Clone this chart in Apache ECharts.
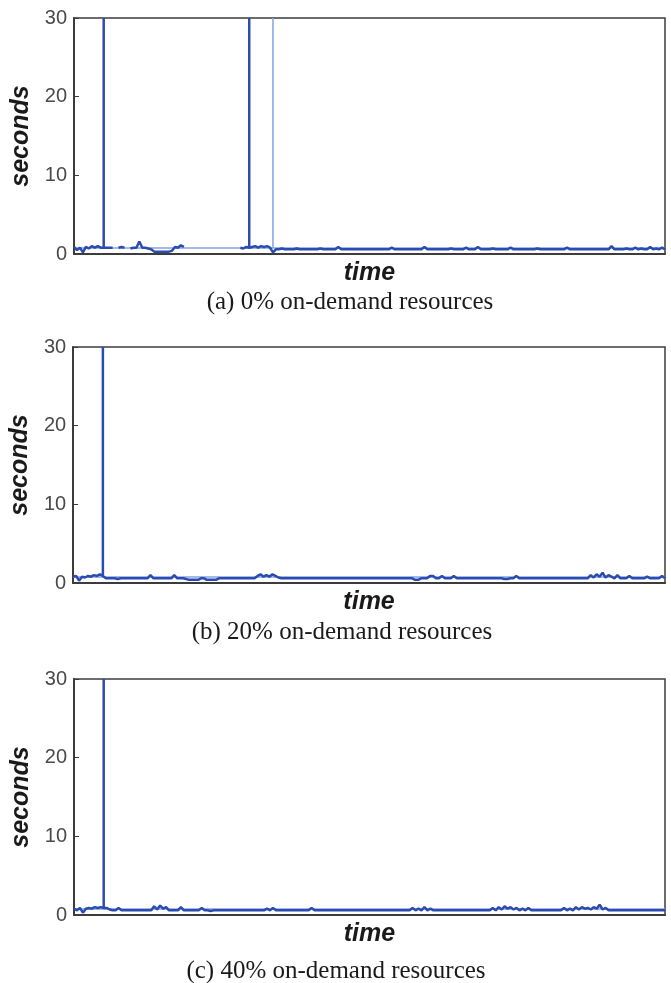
<!DOCTYPE html>
<html>
<head>
<meta charset="utf-8">
<script src="https://cdn.jsdelivr.net/npm/echarts@6/dist/echarts.min.js"></script>
<style>html,body{margin:0;padding:0;background:#fff}#c{width:671px;height:983px}</style>
</head>
<body>
<div id="c"></div>
<script>
// ---- data (index = time step, 200 samples per run) ----
const captions = ['(a) 0% on-demand resources', '(b) 20% on-demand resources', '(c) 40% on-demand resources'];
const yTicks = [0, 10, 20, 30];

const delayA = [
  0.9, 0.5, 0.8, 0.2, 0.9, 0.7, 1.0, 0.8, 1.0, 0.8,
  0.8,
  0.8, 0.8, 0.8, null, 0.8, 0.9, 0.8, null, 0.7, 0.8, 0.8, 1.6, 0.8, 0.8, 0.7, 0.6,
  0.3, 0.3, 0.3, 0.3, 0.3, 0.3, 0.4,
  0.9, 0.8, 1.1, 0.9,
  null, null, null, null, null, null, null, null, null, null, null, null, null, null, null, null,
  0.7, null, 0.8, 0.7, 0.9,
  0.8,
  0.9, 1.0, 0.8, 1.0, 0.9, 1.0, 0.8,
  0.2,
  0.6, 0.6, 0.7, 0.6, 0.6, 0.6, 0.6, 0.7, 0.6, 0.6, 0.6, 0.6,
  0.6, 0.6, 0.6, 0.7, 0.6, 0.6, 0.6, 0.6, 0.6, 0.9, 0.6, 0.6,
  0.6, 0.6, 0.6, 0.6, 0.6, 0.6, 0.6, 0.6, 0.6, 0.6, 0.6, 0.6,
  0.6, 0.6, 0.6, 0.8, 0.6, 0.6, 0.6, 0.6, 0.6, 0.6, 0.6, 0.6,
  0.6, 0.6, 0.9, 0.6, 0.6, 0.6, 0.6, 0.6, 0.6, 0.6, 0.6, 0.7,
  0.6, 0.6, 0.6, 0.6, 0.8, 0.6, 0.6, 0.6, 0.9, 0.6, 0.6, 0.6,
  0.6, 0.7, 0.6, 0.6, 0.6, 0.6, 0.6, 0.8, 0.6, 0.6, 0.6, 0.6,
  0.6, 0.6, 0.6, 0.6, 0.7, 0.6, 0.6, 0.6, 0.6, 0.6, 0.6, 0.6,
  0.6, 0.6, 0.8, 0.6, 0.6, 0.6, 0.6, 0.6, 0.6, 0.6, 0.6, 0.6,
  0.6, 0.6, 0.6, 0.6, 0.6, 1.0, 0.6, 0.6, 0.6, 0.6, 0.7, 0.6,
  0.6, 0.8, 0.6, 0.7, 0.6, 0.6, 0.9, 0.6, 0.7, 0.6, 0.8, 0.6
];
// timeouts: sample index where the delay jumps to the peak (then back)
const spikeIdxA = [10, 59];
const spikeValA = [30, 30];

const delayB = [
  0.8, 0.9, 0.3, 0.8, 0.7, 0.9, 0.8, 1.0, 0.9, 1.1,
  0.9,
  0.6, 0.6, 0.6, 0.6, 0.5, 0.6, 0.6, 0.6, 0.6, 0.6,
  0.6, 0.6, 0.6, 0.6, 0.6, 1.0, 0.6, 0.6, 0.6, 0.6,
  0.6, 0.6, 0.6, 1.0, 0.6, 0.6, 0.6, 0.5, 0.4, 0.4,
  0.4, 0.4, 0.6, 0.6, 0.4, 0.4, 0.4, 0.4, 0.6, 0.6,
  0.6, 0.6, 0.6, 0.6, 0.6, 0.6, 0.6, 0.6, 0.6, 0.6,
  0.6, 0.9, 1.1, 0.8, 1.0, 0.8, 1.1, 0.9, 0.7, 0.6,
  0.6, 0.6, 0.6, 0.6, 0.6, 0.6, 0.6, 0.6, 0.6, 0.6,
  0.6, 0.6, 0.6, 0.6, 0.6, 0.6, 0.6, 0.6, 0.6, 0.6,
  0.6, 0.6, 0.6, 0.6, 0.6, 0.6, 0.6, 0.6, 0.6, 0.6,
  0.6, 0.6, 0.6, 0.6, 0.6, 0.6, 0.6, 0.6, 0.6, 0.6,
  0.6, 0.6, 0.6, 0.6, 0.4, 0.4, 0.6, 0.6, 0.6, 0.9,
  0.9, 0.6, 0.6, 0.9, 0.6, 0.6, 0.6, 0.9, 0.6, 0.6,
  0.6, 0.6, 0.6, 0.6, 0.6, 0.6, 0.6, 0.6, 0.6, 0.6,
  0.6, 0.6, 0.6, 0.6, 0.5, 0.5, 0.6, 0.6, 0.9, 0.6,
  0.6, 0.6, 0.6, 0.6, 0.6, 0.6, 0.6, 0.6, 0.6, 0.6,
  0.6, 0.6, 0.6, 0.6, 0.6, 0.6, 0.6, 0.6, 0.6, 0.6,
  0.6, 0.6, 0.6, 1.0, 0.7, 1.1, 0.8, 1.3, 0.7, 1.0,
  0.8, 0.6, 1.0, 0.6, 0.6, 0.6, 0.9, 0.6, 0.6, 0.6,
  0.6, 0.6, 0.8, 0.6, 0.6, 0.6, 0.6, 0.9, 0.6
];
const spikeIdxB = [10];
const spikeValB = [30];

const delayC = [
  0.8, 0.6, 0.9, 0.3, 0.8, 0.9, 0.8, 1.0, 0.9, 1.0,
  0.9,
  0.9, 0.7, 0.6, 0.6, 0.9, 0.6, 0.6, 0.6, 0.6, 0.6,
  0.6, 0.6, 0.6, 0.6, 0.6, 0.6, 1.1, 0.7, 1.2, 0.8,
  1.0, 0.6, 0.6, 0.6, 0.6, 1.0, 0.6, 0.6, 0.6, 0.6,
  0.6, 0.6, 0.9, 0.6, 0.6, 0.5, 0.6, 0.6, 0.6, 0.6,
  0.6, 0.6, 0.6, 0.6, 0.6, 0.6, 0.6, 0.6, 0.6, 0.6,
  0.6, 0.6, 0.6, 0.6, 0.8, 0.6, 0.9, 0.6, 0.6, 0.6,
  0.6, 0.6, 0.6, 0.6, 0.6, 0.6, 0.6, 0.6, 0.6, 0.9,
  0.6, 0.6, 0.6, 0.6, 0.6, 0.6, 0.6, 0.6, 0.6, 0.6,
  0.6, 0.6, 0.6, 0.6, 0.6, 0.6, 0.6, 0.6, 0.6, 0.6,
  0.6, 0.6, 0.6, 0.6, 0.6, 0.6, 0.6, 0.6, 0.6, 0.6,
  0.6, 0.6, 0.6, 0.9, 0.6, 0.8, 0.6, 1.0, 0.6, 0.8,
  0.6, 0.6, 0.6, 0.6, 0.6, 0.6, 0.6, 0.6, 0.6, 0.6,
  0.6, 0.6, 0.6, 0.6, 0.6, 0.6, 0.6, 0.6, 0.6, 0.6,
  0.9, 0.6, 1.0, 0.7, 1.1, 0.8, 1.0, 0.7, 0.9, 0.6,
  0.8, 0.6, 0.9, 0.6, 0.6, 0.6, 0.6, 0.6, 0.6, 0.6,
  0.6, 0.6, 0.6, 0.6, 0.9, 0.6, 0.8, 0.6, 1.0, 0.7,
  1.0, 0.8, 0.9, 0.7, 1.0, 0.8, 1.3, 0.7, 0.9, 0.6,
  0.6, 0.6, 0.6, 0.6, 0.6, 0.6, 0.6, 0.6, 0.6, 0.6,
  0.6, 0.6, 0.6, 0.6, 0.6, 0.6, 0.6, 0.6, 0.6
];
const spikeIdxC = [10];
const spikeValC = [30];

// light reference trace: sample index / value
const refIdxA = [0, 67, 67, 67, 199];
const refValA = [0.75, 0.75, 30, 0.75, 0.75];
const refIdxB = [0, 199];
const refValB = [0.75, 0.75];
const refIdxC = [0, 199];
const refValC = [0.75, 0.75];

// ---- layout ----
const grids = [
  {left: 74, top: 18, width: 591, height: 236},
  {left: 73, top: 347, width: 592, height: 236},
  {left: 74, top: 679, width: 591, height: 236}
];
const captionPos = [[350, 302], [342, 632], [336, 971]];

const runs = [
  {dark: delayA, si: spikeIdxA, sv: spikeValA, ri: refIdxA, rv: refValA},
  {dark: delayB, si: spikeIdxB, sv: spikeValB, ri: refIdxB, rv: refValB},
  {dark: delayC, si: spikeIdxC, sv: spikeValC, ri: refIdxC, rv: refValC}
];

function buildDark(r) {
  const out = [];
  r.dark.forEach((v, i) => {
    out.push([i, v]);
    const s = r.si.indexOf(i);
    if (s >= 0) { out.push([i, r.sv[s]]); out.push([i, v]); }
  });
  return out;
}

const axisCol = '#3c3c3c';
const option = {
  animation: false,
  backgroundColor: '#fff',
  grid: grids.map(g => Object.assign({show: true, borderColor: axisCol, borderWidth: 1.5, backgroundColor: '#fff'}, g)),
  xAxis: grids.map((g, k) => ({
    type: 'value', gridIndex: k, min: 0, max: 199,
    name: 'time', nameLocation: 'middle', nameGap: 19,
    nameTextStyle: {fontFamily: 'Liberation Sans', fontWeight: 'bold', fontStyle: 'italic', fontSize: 25, color: '#1a1a1a', verticalAlign: 'middle'},
    axisLine: {show: true, lineStyle: {color: axisCol, width: 2}},
    axisTick: {show: false}, axisLabel: {show: false}, splitLine: {show: false}
  })),
  yAxis: grids.map((g, k) => ({
    type: 'value', gridIndex: k, min: yTicks[0], max: yTicks[yTicks.length - 1], interval: 10,
    name: 'seconds', nameLocation: 'middle', nameRotate: 90, nameGap: 48,
    nameTextStyle: {fontFamily: 'Liberation Sans', fontWeight: 'bold', fontStyle: 'italic', fontSize: 25, color: '#1a1a1a', align: 'center', verticalAlign: 'middle'},
    axisLine: {show: true, lineStyle: {color: axisCol, width: 2}},
    axisTick: {show: true, inside: true, length: 5, lineStyle: {color: axisCol, width: 1}},
    axisLabel: {color: '#4a4a4a', fontSize: 20, fontFamily: 'Liberation Sans', margin: 7},
    splitLine: {show: false}
  })),
  series: [],
  graphic: captions.map((t, k) => ({
    type: 'text', x: captionPos[k][0], y: captionPos[k][1],
    style: {text: t, fontFamily: 'Liberation Serif', fontSize: 25, fill: '#1a1a1a', align: 'center', verticalAlign: 'middle'}
  }))
};

runs.forEach((r, k) => {
  option.series.push({
    type: 'line', xAxisIndex: k, yAxisIndex: k, showSymbol: false, symbol: 'none',
    data: r.ri.map((x, j) => [x, r.rv[j]]),
    lineStyle: {color: '#86a2e2', width: 1.5}, z: 2
  });
  option.series.push({
    type: 'line', xAxisIndex: k, yAxisIndex: k, showSymbol: false, symbol: 'none', connectNulls: false,
    data: buildDark(r),
    lineStyle: {color: '#2a4cb0', width: 2.5}, z: 3
  });
});

const chart = echarts.init(document.getElementById('c'), null, {renderer: 'canvas'});
chart.setOption(option);
</script>
</body>
</html>
